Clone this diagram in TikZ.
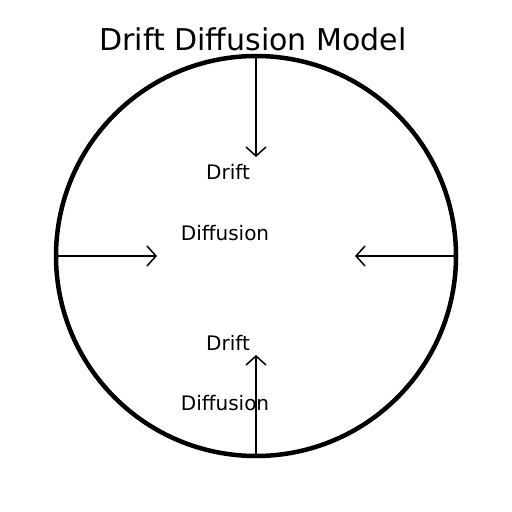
\documentclass[tikz,border=0pt]{standalone}
\usepackage{fontspec}
\setmainfont{DejaVu Sans}
\usetikzlibrary{arrows.meta}
\tikzset{
  ring/.style={draw=black, circle, line width=4.5bp, minimum size=400bp, inner sep=0pt, outer sep=0pt},
  flow/.style={line width=1.5bp, -{Straight Barb[length=9bp, width=20bp]}},
  lbl/.style={anchor=base, inner sep=0pt, font=\fontsize{20bp}{24bp}\selectfont},
  ttl/.style={anchor=base, inner sep=0pt, font=\fontsize{30bp}{36bp}\selectfont}
}
\begin{document}
\begin{tikzpicture}[x=1bp, y=-1bp]
\useasboundingbox (0,0) rectangle (512,512);
\node[ttl] (title) at (253,50.5) {Drift Diffusion Model};
\node[ring] (circ) at (256,256) {};
\coordinate (tTop) at (256,157);
\coordinate (tLeft) at (157,256);
\coordinate (tRight) at (355,256);
\coordinate (tBot) at (256,355);
\draw[flow] (circ.north) -- (tTop);
\draw[flow] (circ.west) -- (tLeft);
\draw[flow] (circ.east) -- (tRight);
\draw[flow] (circ.south) -- (tBot);
\node[lbl] (drift1) at (228,180) {Drift};
\node[lbl] (diff1) at (225,240) {Diffusion};
\node[lbl] (drift2) at (228,350) {Drift};
\node[lbl] (diff2) at (225,410) {Diffusion};
\end{tikzpicture}
\end{document}
